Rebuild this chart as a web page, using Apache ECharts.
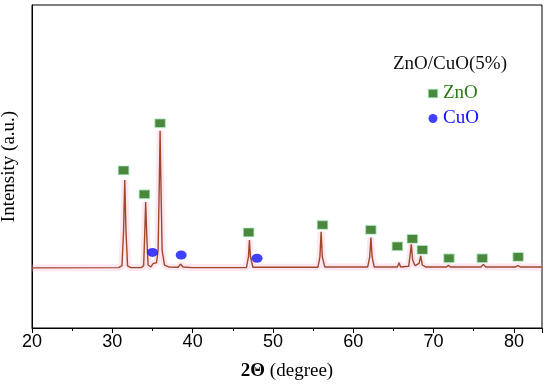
<!DOCTYPE html>
<html><head><meta charset="utf-8">
<script src="https://cdn.jsdelivr.net/npm/echarts@6/dist/echarts.min.js"></script>
<style>html,body{margin:0;padding:0;background:#fff}#c{width:550px;height:386px}</style>
</head><body><div id="c"></div>
<script>
// XRD pattern: [2theta, intensity]
var pattern = [
 [20,18.6],[30.8,18.7],[31.2,19.3],[31.4,30],[31.55,45.8],[31.7,30],[31.9,19.2],[32.3,18.7],
 [33.6,18.7],[33.9,19.3],[34.05,30],[34.15,39],[34.3,28],[34.45,19.5],[34.8,18.9],
 [35.1,20.0],[35.3,19.6],[35.5,20.2],[35.7,24],[35.85,45],[35.95,61.1],[36.05,45],[36.2,24],[36.5,19.5],
 [37,18.9],[38.2,18.8],[38.5,19.8],[38.8,18.9],[40,18.7],
 [46.7,18.7],[46.95,22],[47.07,27.2],[47.2,22],[47.5,18.8],
 [55.6,18.8],[55.85,22],[56.0,29.8],[56.15,22],[56.45,18.9],
 [61.8,18.9],[62.05,22],[62.2,28.0],[62.35,22],[62.6,18.9],
 [65.5,18.9],[65.7,20.2],[65.9,18.9],[66.9,19.1],[67.1,23],[67.22,25.9],[67.4,21],[67.7,19.3],
 [68.2,20],[68.4,22.3],[68.6,19.5],[69.0,18.9],
 [71.6,18.9],[71.85,19.4],[72.1,18.9],[75.9,18.9],[76.2,19.7],[76.5,18.9],
 [80.2,18.9],[80.5,19.3],[80.8,18.9],[83.5,18.9]
];
var znoMarks = [[31.4,48.8],[34.0,41.4],[35.95,63.4],[46.97,29.6],[56.17,31.9],[62.19,30.4],
 [65.49,25.3],[67.36,27.6],[68.6,24.2],[71.92,21.6],[76.06,21.6],[80.53,22.0]];
var cuoMarks = [[35.0,23.4],[38.57,22.6],[48.02,21.6]];
var xTicks = [20,30,40,50,60,70,80];
var legendTitle = 'ZnO/CuO(5%)';

var chart = echarts.init(document.getElementById('c'));
chart.setOption({
  animation:false,
  backgroundColor:'#fff',
  grid:{left:32,right:8,top:5,bottom:58,show:true,borderColor:'#000',borderWidth:1,
    containLabel:false,outerBoundsMode:'none'},
  title:{text:legendTitle,left:388,top:50,textStyle:{fontFamily:'Liberation Serif',fontSize:19,fontWeight:'normal',color:'#111'}},
  legend:{orient:'vertical',left:422,top:79,itemGap:6,itemWidth:10,itemHeight:9,
    textStyle:{fontFamily:'Liberation Serif',fontSize:19},
    data:[{name:'ZnO',icon:'rect',textStyle:{color:'#2a7a12'}},{name:'CuO',icon:'circle',textStyle:{color:'#1010ff'}}]},
  xAxis:{type:'value',min:20,max:83.5,interval:10,
    axisLine:{lineStyle:{color:'#000',width:1}},
    axisTick:{show:true,inside:false,length:5,lineStyle:{color:'#000'}},
    minorTick:{show:true,splitNumber:2,length:3,lineStyle:{color:'#000'}},
    splitLine:{show:false},
    axisLabel:{fontFamily:'Liberation Sans',fontSize:18,color:'#000',margin:5,
      formatter:function(v){return xTicks.indexOf(v)>=0?String(v):'';}},
    name:'{b|2Θ} (degree)',nameLocation:'middle',nameGap:34,
    nameTextStyle:{fontFamily:'Liberation Serif',fontSize:19,color:'#000',
      rich:{b:{fontFamily:'Liberation Serif',fontSize:19,fontWeight:'bold',color:'#000'}}}
  },
  yAxis:{type:'value',min:0,max:100,axisLine:{show:true,lineStyle:{color:'#000'}},axisTick:{show:false},
    axisLabel:{show:false},splitLine:{show:false},
    name:'Intensity (a.u.)',nameLocation:'middle',nameGap:13,
    nameTextStyle:{fontFamily:'Liberation Serif',fontSize:19,color:'#000'}},
  series:[
    {type:'line',data:pattern,symbol:'none',silent:true,z:1,
      lineStyle:{color:'rgba(255,175,210,0.3)',width:7}},
    {type:'line',data:pattern,symbol:'none',z:2,lineStyle:{color:'#9e482a',width:1.4}},
    {name:'ZnO',type:'scatter',data:znoMarks,symbol:'rect',symbolSize:[11,9],z:3,
      itemStyle:{color:'#1d6a0a',borderColor:'rgba(215,255,240,0.7)',borderWidth:1.5}},
    {name:'CuO',type:'scatter',data:cuoMarks,symbol:'circle',symbolSize:[11,9],z:3,
      itemStyle:{color:'#1010ff'}}
  ]
});
</script></body></html>
